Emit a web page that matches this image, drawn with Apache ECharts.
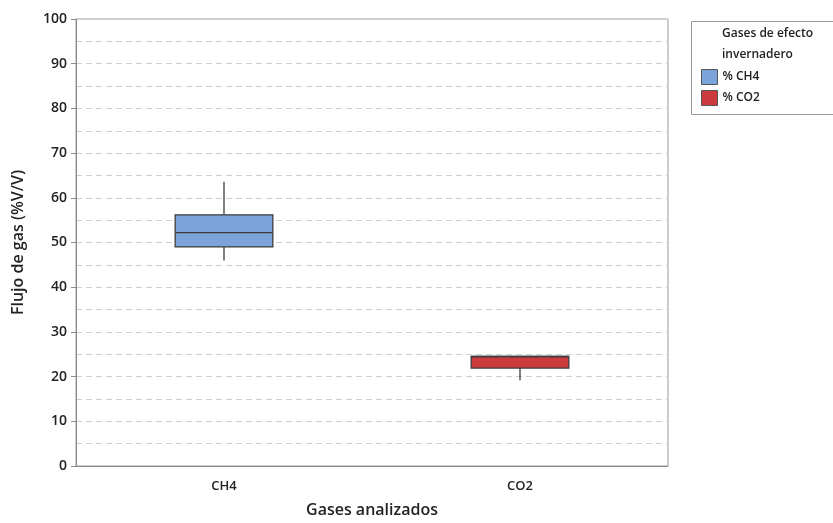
<!DOCTYPE html>
<html>
<head>
<meta charset="utf-8">
<script src="https://cdn.jsdelivr.net/npm/echarts@6/dist/echarts.min.js"></script>
<style>html,body{margin:0;padding:0;background:#fff}#c{width:833px;height:523px}</style>
</head>
<body>
<div id="c"></div>
<script>
var categories = ['CH4', 'CO2'];
var seriesNames = ['% CH4', '% CO2'];
// [whiskerLow, Q1, median, Q3, whiskerHigh]
var ch4Box = [46.0, 49.0, 52.2, 56.2, 63.6];
var co2Box = [19.2, 21.9, 24.5, 24.5, 24.5];
var yTicks = [0, 10, 20, 30, 40, 50, 60, 70, 80, 90, 100];
var colors = ['#7ba5da', '#cc3a3d'];

var FONT = '"Open Sans", "Noto Sans", sans-serif';
var boxes = [ch4Box, co2Box];
var data = boxes.map(function (b, i) { return [i].concat(b); });

var chart = echarts.init(document.getElementById('c'));
chart.setOption({
  animation: false,
  textStyle: { fontFamily: FONT },
  grid: { left: 76, right: 165, top: 19, bottom: 55, show: true, borderColor: '#9a9a9a', borderWidth: 1, backgroundColor: '#fff' },
  legend: {
    data: seriesNames,
    orient: 'vertical',
    left: 696, top: 64,
    icon: 'rect', itemWidth: 16, itemHeight: 15, itemGap: 5,
    textStyle: { fontSize: 12, color: '#222', fontFamily: FONT, fontWeight: 600 },
    itemStyle: { borderColor: '#555', borderWidth: 1, opacity: 1 }
  },
  graphic: [
    { type: 'rect', left: 689, top: 19, shape: { width: 150, height: 93 }, style: { fill: 'none', stroke: '#9a9a9a', lineWidth: 1 } },
    { type: 'text', left: 722, top: 23, style: { text: 'Gases de efecto\ninvernadero', font: '600 12px ' + FONT, fill: '#222', lineHeight: 21 } }
  ],
  xAxis: {
    type: 'category', data: categories,
    axisLine: { lineStyle: { color: '#8a8a8a' } },
    axisTick: { alignWithLabel: true, length: 5, lineStyle: { color: '#8a8a8a' } },
    axisLabel: { fontSize: 13, color: '#222', margin: 14, fontWeight: 600 },
    name: 'Gases analizados', nameLocation: 'middle', nameGap: 36,
    nameTextStyle: { fontSize: 16, color: '#222', fontWeight: 600 }
  },
  yAxis: [{
    type: 'value', min: 0, max: 100, interval: 10,
    axisLine: { show: true, lineStyle: { color: '#8a8a8a' } },
    axisTick: { show: true, length: 5, lineStyle: { color: '#8a8a8a' } },
    axisLabel: { fontSize: 14, color: '#222', margin: 9, fontWeight: 600 },
    splitLine: { show: false },
    name: 'Flujo de gas (%V/V)', nameLocation: 'middle', nameGap: 50,
    nameTextStyle: { fontSize: 16, color: '#222', fontWeight: 600 }
  }, {
    type: 'value', min: 0, max: 100, interval: 5, position: 'left',
    axisLine: { show: false }, axisTick: { show: false }, axisLabel: { show: false },
    splitLine: { show: true, lineStyle: { color: '#cfcfcf', type: [6, 4], width: 1 } }
  }],
  series: [{
    type: 'custom',
    name: 'boxes',
    encode: { x: 0, y: [1, 2, 3, 4, 5] },
    data: data,
    z: 5,
    renderItem: function (params, api) {
      var idx = api.value(0);
      var lo = api.coord([idx, api.value(1)]);
      var q1 = api.coord([idx, api.value(2)]);
      var md = api.coord([idx, api.value(3)]);
      var q3 = api.coord([idx, api.value(4)]);
      var hi = api.coord([idx, api.value(5)]);
      var w = api.size([1, 0])[0] * 0.33;
      var x = lo[0];
      var stroke = '#3d3d3d';
      return {
        type: 'group',
        children: [
          { type: 'line', shape: { x1: x, y1: q3[1], x2: x, y2: hi[1] }, style: { stroke: stroke, lineWidth: 1.3 } },
          { type: 'line', shape: { x1: x, y1: q1[1], x2: x, y2: lo[1] }, style: { stroke: stroke, lineWidth: 1.3 } },
          { type: 'rect', shape: { x: x - w / 2, y: q3[1], width: w, height: q1[1] - q3[1] }, style: { fill: colors[idx], stroke: stroke, lineWidth: 1.3 } },
          { type: 'line', shape: { x1: x - w / 2, y1: md[1], x2: x + w / 2, y2: md[1] }, style: { stroke: stroke, lineWidth: 1.3 } }
        ]
      };
    }
  }, {
    type: 'scatter', name: seriesNames[0], data: [], itemStyle: { color: colors[0], opacity: 1 }
  }, {
    type: 'scatter', name: seriesNames[1], data: [], itemStyle: { color: colors[1], opacity: 1 }
  }]
});
</script>
</body>
</html>
